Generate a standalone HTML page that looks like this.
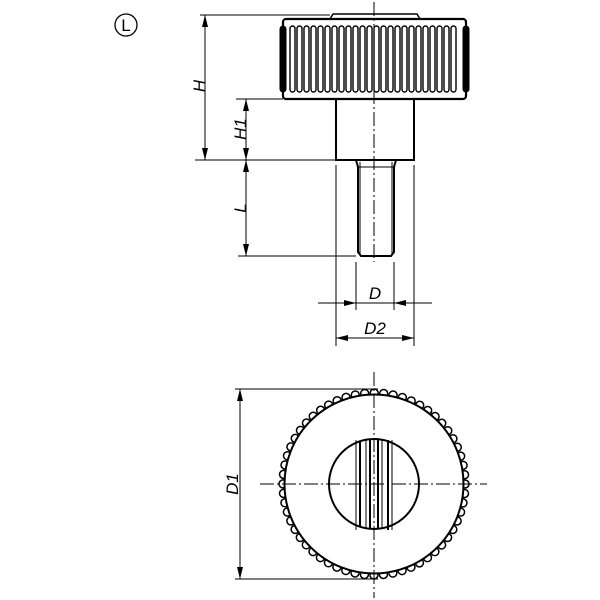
<!DOCTYPE html>
<html><head><meta charset="utf-8"><style>html,body{margin:0;padding:0;background:#fff}svg{display:block}</style></head>
<body>
<svg width="600" height="600" viewBox="0 0 600 600" xmlns="http://www.w3.org/2000/svg" font-family="Liberation Sans, sans-serif">
<defs>
<marker id="a" viewBox="0 0 12 6" refX="12" refY="3" markerWidth="12" markerHeight="6" markerUnits="userSpaceOnUse" orient="auto-start-reverse"><path d="M0,0 L12,3 L0,6 Z" fill="#000"/></marker>
</defs>
<circle cx="126" cy="25" r="11" stroke="#000" stroke-width="1.3" fill="none"/>
<text x="126" y="31" font-size="17" text-anchor="middle">L</text>

<!-- knob -->
<g stroke="#000" fill="none">
<path d="M330,19 L333,14 L417,14 L420,19" stroke-width="1.5"/>
<rect x="283" y="19" width="183" height="80" rx="3" stroke-width="2.2"/>
<rect x="280" y="26" width="6" height="66" rx="3" fill="#000"/>
<rect x="463" y="26" width="6" height="66" rx="3" fill="#000"/>
</g>
<g stroke="#000" stroke-width="1.4" fill="none">
<rect x="290" y="26" width="5" height="66" rx="2.5"/><rect x="297" y="26" width="5" height="66" rx="2.5"/><rect x="304" y="26" width="5" height="66" rx="2.5"/><rect x="311" y="26" width="5" height="66" rx="2.5"/><rect x="318" y="26" width="5" height="66" rx="2.5"/><rect x="325" y="26" width="5" height="66" rx="2.5"/><rect x="332" y="26" width="5" height="66" rx="2.5"/><rect x="339" y="26" width="5" height="66" rx="2.5"/><rect x="346" y="26" width="5" height="66" rx="2.5"/><rect x="353" y="26" width="5" height="66" rx="2.5"/><rect x="360" y="26" width="5" height="66" rx="2.5"/><rect x="367" y="26" width="5" height="66" rx="2.5"/><rect x="374" y="26" width="5" height="66" rx="2.5"/><rect x="381" y="26" width="5" height="66" rx="2.5"/><rect x="388" y="26" width="5" height="66" rx="2.5"/><rect x="395" y="26" width="5" height="66" rx="2.5"/><rect x="402" y="26" width="5" height="66" rx="2.5"/><rect x="409" y="26" width="5" height="66" rx="2.5"/><rect x="416" y="26" width="5" height="66" rx="2.5"/><rect x="423" y="26" width="5" height="66" rx="2.5"/><rect x="430" y="26" width="5" height="66" rx="2.5"/><rect x="437" y="26" width="5" height="66" rx="2.5"/><rect x="444" y="26" width="5" height="66" rx="2.5"/><rect x="451" y="26" width="5" height="66" rx="2.5"/>
</g>
<!-- stem & thread -->
<g stroke="#000" fill="none">
<rect x="336" y="99" width="78" height="61" stroke-width="2"/>
<path d="M356,160 L358,167 L358,252 L361,256 L391,256 L394,252 L394,167 L396,160" stroke-width="2"/>
<path d="M360,162 L360,254 M392,162 L392,254 M358,167 L394,167" stroke-width="1"/>
<line x1="374" y1="2" x2="374" y2="262" stroke-width="1" stroke-dasharray="14,3,2,3"/>
</g>
<!-- dims top -->
<g stroke="#000" stroke-width="1" fill="none">
<line x1="200" y1="15" x2="330" y2="15"/>
<line x1="236" y1="99" x2="283" y2="99"/>
<line x1="195" y1="160" x2="336" y2="160"/>
<line x1="238" y1="256" x2="356" y2="256"/>
<line x1="205" y1="15" x2="205" y2="160" marker-start="url(#a)" marker-end="url(#a)"/>
<line x1="246" y1="99" x2="246" y2="160" marker-start="url(#a)" marker-end="url(#a)"/>
<line x1="246" y1="160" x2="246" y2="256" marker-start="url(#a)" marker-end="url(#a)"/>
<line x1="356" y1="262" x2="356" y2="310"/>
<line x1="394" y1="262" x2="394" y2="310"/>
<line x1="336" y1="165" x2="336" y2="346"/>
<line x1="414" y1="165" x2="414" y2="346"/>
<line x1="318" y1="303" x2="356" y2="303" marker-end="url(#a)"/>
<line x1="432" y1="303" x2="394" y2="303" marker-end="url(#a)"/>
<line x1="356" y1="303" x2="394" y2="303"/>
<line x1="336" y1="338" x2="414" y2="338" marker-start="url(#a)" marker-end="url(#a)"/>
</g>
<g font-size="17" font-style="italic" fill="#000">
<text transform="translate(205,86) rotate(-90)" text-anchor="middle">H</text>
<text transform="translate(246,129) rotate(-90)" text-anchor="middle">H1</text>
<text transform="translate(246,208) rotate(-90)" text-anchor="middle">L</text>
<text x="375" y="299" text-anchor="middle">D</text>
<text x="375" y="334" text-anchor="middle">D2</text>
<text transform="translate(238,484) rotate(-90)" text-anchor="middle">D1</text>
</g>
<!-- bottom view knurl bumps -->
<circle cx="374" cy="484" r="91" fill="none" stroke="#000" stroke-width="9.5" stroke-linecap="round" stroke-dasharray="0 9.53"/>
<circle cx="374" cy="484" r="91" fill="none" stroke="#fff" stroke-width="6.5" stroke-linecap="round" stroke-dasharray="0 9.53"/>
<circle cx="374" cy="484" r="89.5" stroke="#000" stroke-width="2" fill="#fff"/>
<circle cx="374" cy="484" r="45" stroke="#000" stroke-width="2" fill="none"/>
<g stroke="#000" fill="none">
<line x1="356" y1="440" x2="356" y2="530" stroke-width="1"/>
<line x1="360" y1="442" x2="360" y2="527" stroke-width="2"/>
<line x1="366" y1="440" x2="366" y2="528" stroke-width="1"/>
<line x1="370" y1="440" x2="370" y2="529" stroke-width="2"/>
<line x1="378" y1="440" x2="378" y2="528" stroke-width="2"/>
<line x1="382" y1="440" x2="382" y2="528" stroke-width="1"/>
<line x1="388" y1="440" x2="388" y2="530" stroke-width="2"/>
<line x1="392" y1="440" x2="392" y2="530" stroke-width="1"/>
<line x1="374" y1="372" x2="374" y2="598" stroke-width="1" stroke-dasharray="14,3,2,3"/>
<line x1="260" y1="484" x2="487" y2="484" stroke-width="1" stroke-dasharray="14,3,2,3"/>
<line x1="235" y1="389" x2="378" y2="389" stroke-width="1"/>
<line x1="235" y1="579" x2="378" y2="579" stroke-width="1"/>
<line x1="240" y1="389" x2="240" y2="579" stroke-width="1" marker-start="url(#a)" marker-end="url(#a)"/>
</g>
</svg>
</body></html>
